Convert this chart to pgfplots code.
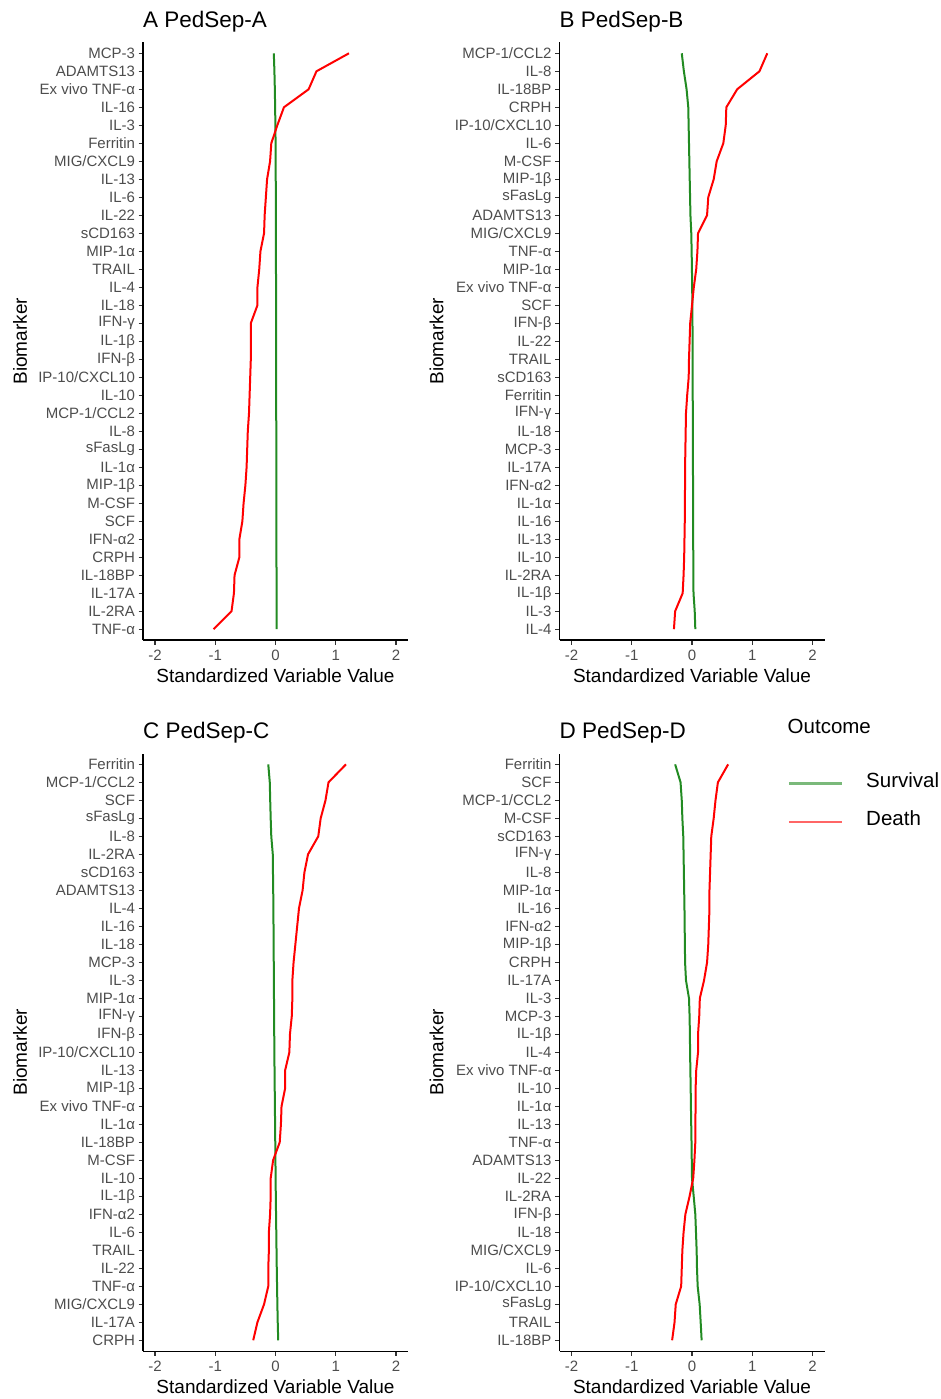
\documentclass[border=0pt]{standalone}
\usepackage{fontspec}
\setmainfont{Liberation Sans}
\usepackage{pgfplots}
\usepackage{pgfplotstable}
\pgfplotsset{compat=1.18}
\definecolor{fgreen}{HTML}{228B22}
\definecolor{tickgray}{HTML}{4D4D4D}

% k = 0 is the top category
\pgfplotstableread{
k surv death
0 -0.028 1.22
1 -0.018 0.68
2 -0.011 0.55
3 -0.006 0.14
4 -0.002 0.03
5 0.001 -0.07
6 0.003 -0.09
7 0.004 -0.14
8 0.005 -0.16
9 0.006 -0.18
10 0.007 -0.19
11 0.008 -0.25
12 0.008 -0.27
13 0.009 -0.30
14 0.009 -0.30
15 0.010 -0.41
16 0.010 -0.41
17 0.011 -0.41
18 0.011 -0.42
19 0.012 -0.43
20 0.012 -0.44
21 0.013 -0.46
22 0.013 -0.47
23 0.014 -0.48
24 0.014 -0.50
25 0.015 -0.53
26 0.015 -0.55
27 0.016 -0.60
28 0.016 -0.60
29 0.017 -0.68
30 0.018 -0.69
31 0.019 -0.73
32 0.020 -1.03
}\dataA

\pgfplotstableread{
k surv death
0 -0.170 1.25
1 -0.135 1.12
2 -0.090 0.75
3 -0.062 0.57
4 -0.056 0.56
5 -0.050 0.52
6 -0.044 0.41
7 -0.038 0.36
8 -0.032 0.27
9 -0.026 0.25
10 -0.012 0.10
11 -0.006 0.09
12 -0.001 0.07
13 0.003 0.03
14 0.006 0.00
15 0.008 -0.03
16 0.009 -0.04
17 0.010 -0.05
18 0.011 -0.055
19 0.012 -0.08
20 0.013 -0.10
21 0.014 -0.105
22 0.015 -0.11
23 0.016 -0.115
24 0.017 -0.115
25 0.018 -0.12
26 0.019 -0.12
27 0.020 -0.125
28 0.021 -0.13
29 0.022 -0.14
30 0.025 -0.155
31 0.045 -0.28
32 0.055 -0.30
}\dataB

\pgfplotstableread{
k surv death
0 -0.120 1.17
1 -0.095 0.88
2 -0.088 0.83
3 -0.080 0.75
4 -0.070 0.71
5 -0.045 0.54
6 -0.042 0.48
7 -0.038 0.45
8 -0.035 0.39
9 -0.033 0.36
10 -0.031 0.33
11 -0.029 0.30
12 -0.027 0.28
13 -0.025 0.28
14 -0.023 0.27
15 -0.021 0.24
16 -0.019 0.23
17 -0.016 0.16
18 -0.013 0.16
19 -0.010 0.10
20 -0.007 0.09
21 -0.004 0.07
22 -0.001 -0.04
23 0.002 -0.08
24 0.005 -0.08
25 0.009 -0.09
26 0.013 -0.11
27 0.017 -0.11
28 0.021 -0.12
29 0.026 -0.12
30 0.031 -0.19
31 0.037 -0.30
32 0.045 -0.37
}\dataC

\pgfplotstableread{
k surv death
0 -0.280 0.60
1 -0.190 0.43
2 -0.170 0.39
3 -0.160 0.36
4 -0.145 0.32
5 -0.140 0.31
6 -0.135 0.30
7 -0.130 0.29
8 -0.125 0.29
9 -0.122 0.28
10 -0.118 0.27
11 -0.115 0.25
12 -0.100 0.20
13 -0.050 0.13
14 -0.040 0.12
15 -0.035 0.10
16 -0.032 0.10
17 -0.027 0.07
18 -0.022 0.06
19 -0.018 0.06
20 -0.013 0.055
21 -0.008 0.055
22 -0.004 0.04
23 0.000 0.02
24 0.028 -0.04
25 0.055 -0.11
26 0.066 -0.14
27 0.077 -0.16
28 0.083 -0.17
29 0.094 -0.18
30 0.127 -0.27
31 0.144 -0.29
32 0.160 -0.33
}\dataD

\pgfplotsset{
  panel/.style={
    scale only axis, width=265pt, height=597.5pt, anchor=center,
    xmin=-2.2, xmax=2.2, ymin=-0.6, ymax=32.6,
    axis x line*=bottom, axis y line*=left,
    axis line style={-, line width=1.1pt, black},
    xtick={-2,-1,0,1,2}, xticklabels={-2,-1,0,1,2},
    ytick={0,1,...,32},
    tick align=outside, major tick length=4.5pt,
    tick style={line width=1.1pt, color=black!80},
    tick label style={font=\fontsize{15}{18}\selectfont, text=tickgray},
    xticklabel style={yshift=-2pt},
    xlabel={Standardized Variable Value}, ylabel={Biomarker},
    label style={font=\fontsize{19}{22}\selectfont},
    xlabel style={at={(axis description cs:0.5,-0.06)}, anchor=center},
    ylabel style={at={(axis description cs:-0.464,0.5)}, anchor=center},
    title style={at={(axis description cs:0,1)}, anchor=base west, inner sep=0pt, yshift=9pt, font=\fontsize{22.5}{26}\selectfont},
    every axis plot/.append style={line width=2pt, line join=round},
  }
}

\begin{document}
\begin{tikzpicture}
\useasboundingbox (0pt,0pt) rectangle (941pt,-1399pt);

\begin{axis}[panel, at={(275.5pt,-341.25pt)}, title={A PedSep-A},
  yticklabels={TNF-α, IL-2RA, IL-17A, IL-18BP, CRPH, IFN-α2, SCF, M-CSF, MIP-1β, IL-1α, sFasLg, IL-8, MCP-1/CCL2, IL-10, IP-10/CXCL10, IFN-β, IL-1β, IFN-γ, IL-18, IL-4, TRAIL, MIP-1α, sCD163, IL-22, IL-6, IL-13, MIG/CXCL9, Ferritin, IL-3, IL-16, Ex vivo TNF-α, ADAMTS13, MCP-3}]
\addplot[fgreen] table[x=surv, y expr=32-\thisrow{k}] {\dataA};
\addplot[red] table[x=death, y expr=32-\thisrow{k}] {\dataA};
\end{axis}

\begin{axis}[panel, at={(692pt,-341.25pt)}, title={B PedSep-B},
  yticklabels={IL-4, IL-3, IL-1β, IL-2RA, IL-10, IL-13, IL-16, IL-1α, IFN-α2, IL-17A, MCP-3, IL-18, IFN-γ, Ferritin, sCD163, TRAIL, IL-22, IFN-β, SCF, Ex vivo TNF-α, MIP-1α, TNF-α, MIG/CXCL9, ADAMTS13, sFasLg, MIP-1β, M-CSF, IL-6, IP-10/CXCL10, CRPH, IL-18BP, IL-8, MCP-1/CCL2}]
\addplot[fgreen] table[x=surv, y expr=32-\thisrow{k}] {\dataB};
\addplot[red] table[x=death, y expr=32-\thisrow{k}] {\dataB};
\end{axis}

\begin{axis}[panel, at={(275.5pt,-1052.3pt)}, title={C PedSep-C},
  yticklabels={CRPH, IL-17A, MIG/CXCL9, TNF-α, IL-22, TRAIL, IL-6, IFN-α2, IL-1β, IL-10, M-CSF, IL-18BP, IL-1α, Ex vivo TNF-α, MIP-1β, IL-13, IP-10/CXCL10, IFN-β, IFN-γ, MIP-1α, IL-3, MCP-3, IL-18, IL-16, IL-4, ADAMTS13, sCD163, IL-2RA, IL-8, sFasLg, SCF, MCP-1/CCL2, Ferritin}]
\addplot[fgreen] table[x=surv, y expr=32-\thisrow{k}] {\dataC};
\addplot[red] table[x=death, y expr=32-\thisrow{k}] {\dataC};
\end{axis}

\begin{axis}[panel, at={(692pt,-1052.3pt)}, title={D PedSep-D}, clip=false,
  yticklabels={IL-18BP, TRAIL, sFasLg, IP-10/CXCL10, IL-6, MIG/CXCL9, IL-18, IFN-β, IL-2RA, IL-22, ADAMTS13, TNF-α, IL-13, IL-1α, IL-10, Ex vivo TNF-α, IL-4, IL-1β, MCP-3, IL-3, IL-17A, CRPH, MIP-1β, IFN-α2, IL-16, MIP-1α, IL-8, IFN-γ, sCD163, M-CSF, MCP-1/CCL2, SCF, Ferritin},
  legend cell align=left,
  legend image code/.code={\draw[#1, line width=2.5pt, opacity=0.6] (0pt,-3pt) -- (53pt,-3pt);},
  legend style={draw=none, fill=none, at={(axis description cs:0.8604,0.969)}, anchor=north west,
    inner sep=0pt, nodes={inner sep=0pt}, column sep=23pt, row sep=22pt,
    font=\fontsize{20.5}{24}\selectfont}]
\addplot[fgreen] table[x=surv, y expr=32-\thisrow{k}] {\dataD};
\addlegendentry{Survival}
\addplot[red] table[x=death, y expr=32-\thisrow{k}] {\dataD};
\addlegendentry{Death}
\node[anchor=base west, inner sep=0pt, font=\fontsize{20.5}{24}\selectfont] at (axis description cs:0.8604,1.0335) {Outcome};
\end{axis}
\end{tikzpicture}
\end{document}
